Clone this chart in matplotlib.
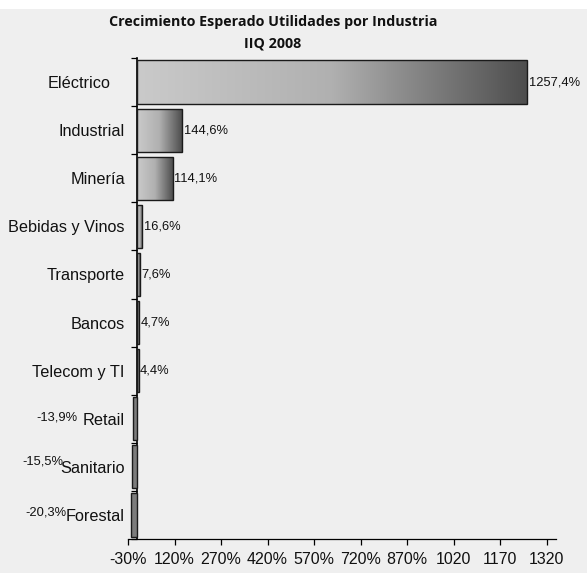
import numpy as np
import matplotlib
matplotlib.use("Agg")
from matplotlib import pyplot as plt
from matplotlib.colors import LinearSegmentedColormap
from matplotlib.patches import Rectangle
import matplotlib.transforms as mtransforms

# data
industrias = ["Eléctrico", "Industrial", "Minería", "Bebidas y Vinos", "Transporte",
              "Bancos", "Telecom y TI", "Retail", "Sanitario", "Forestal"]
crecimiento = [1257.4, 144.6, 114.1, 16.6, 7.6, 4.7, 4.4, -13.9, -15.5, -20.3]
etiquetas = ["1257,4%", "144,6%", "114,1%", "16,6%", "7,6%", "4,7%", "4,4%",
             "-13,9%", "-15,5%", "-20,3%"]
xticks = [-30, 120, 270, 420, 570, 720, 870, 1020, 1170, 1320]
xticklabels = ["-30%", "120%", "270%", "420%", "570%", "720%", "870%", "1020", "1170", "1320"]

bg = "#efefef"
plt.rcParams['font.family'] = ['Liberation Sans', 'DejaVu Sans']

fig = plt.figure(figsize=(5.87, 5.73), dpi=100, facecolor=bg)
# white strip at the top
fig.patches.append(Rectangle((0, 1 - 9/573), 1, 9/573, transform=fig.transFigure,
                             facecolor="white", edgecolor="none", zorder=-1))
ax = fig.add_axes([128/587, 1 - 539/573, (556-128)/587, (539-58)/573])
ax.set_facecolor(bg)

grad = LinearSegmentedColormap.from_list("g", ["#cacaca", "#b0b0b0", "#4e4e4e"])
gimg = np.linspace(0, 1, 256).reshape(1, -1)

n = len(industrias)
ypos = np.arange(n)
h = 0.9
for y, v in zip(ypos, crecimiento):
    if v >= 0:
        r = Rectangle((0, y - h/2), v, h, facecolor="none", edgecolor="#1a1a1a",
                      linewidth=1.0, zorder=3)
        ax.add_patch(r)
        im = ax.imshow(gimg, cmap=grad, aspect="auto", extent=(0, v, y + h/2, y - h/2),
                       zorder=2, interpolation="bilinear")
        im.set_clip_path(r)
    else:
        ax.add_patch(Rectangle((0, y - h/2), v, h, facecolor="#7c7c7c",
                               edgecolor="#1a1a1a", linewidth=1.0, zorder=3))

# value labels (negative ones sit out beside the category names)
neg_off = {7: (-55, 1), 8: (-69, 5), 9: (-65, 2)}
for i, (v, t) in enumerate(zip(crecimiento, etiquetas)):
    if v >= 0:
        ax.annotate(t, (v, ypos[i]), xytext=(1.5, 0), textcoords="offset pixels",
                    ha="left", va="center", fontsize=9.3, color="#111111")
    else:
        ax.annotate(t, (v, ypos[i]), xytext=neg_off[i], textcoords="offset pixels",
                    ha="right", va="center", fontsize=9.3, color="#111111")

ax.set_xlim(-30, 1350)
ax.set_ylim(n - 0.5, -0.5)

for s in ["top", "right"]:
    ax.spines[s].set_visible(False)
ax.spines["left"].set_position(("data", 0))
ax.spines["left"].set_linewidth(1.2)
ax.spines["bottom"].set_linewidth(0.9)

ax.set_yticks(ypos)
ax.set_yticklabels(industrias, fontsize=11.7, color="#111111")
ax.set_yticks(np.arange(n + 1) - 0.5, minor=True)
ax.tick_params(axis="y", which="major", length=0, pad=9)
ax.tick_params(axis="y", which="minor", length=4, width=0.9, direction="out")

ax.set_xticks(xticks)
ax.set_xticklabels(xticklabels, fontsize=11.5, color="#111111")
ax.tick_params(axis="x", length=4, width=0.9, pad=5)

# Eléctrico label sits a bit further left
lbl = ax.get_yticklabels()[0]
lbl.set_transform(lbl.get_transform() + mtransforms.ScaledTranslation(-14/100, 0, fig.dpi_scale_trans))

fig.text(273/587, 1 - 22/573, "Crecimiento Esperado Utilidades por Industria",
         ha="center", va="center", fontsize=10.3, fontweight="bold",
         family=["Open Sans", "DejaVu Sans"], color="#111111")
fig.text(273/587, 1 - 43/573, "IIQ 2008", ha="center", va="center", fontsize=10.3,
         fontweight="bold", family=["Open Sans", "DejaVu Sans"], color="#111111")

fig.savefig("out.png", dpi=100, facecolor=bg)
